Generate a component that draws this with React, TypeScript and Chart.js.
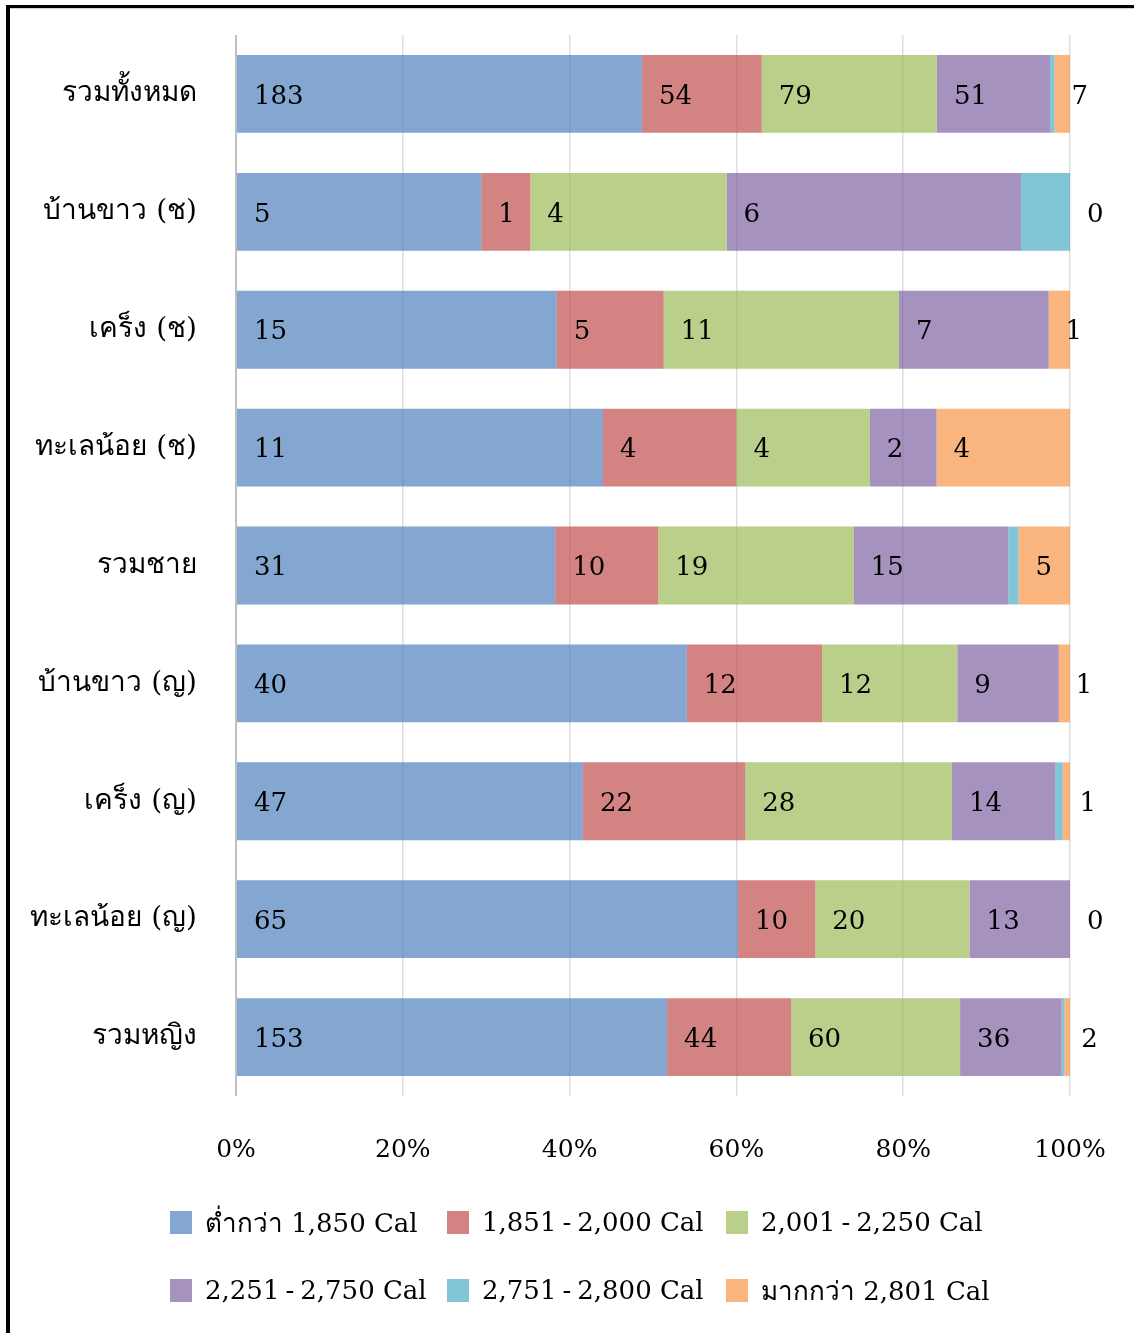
import React, { useEffect, useRef } from "react";
import { Chart, registerables } from "chart.js";

Chart.register(...registerables);

// ---------- data ----------
const categories = [
  "รวมทั้งหมด",
  "บ้านขาว (ช)",
  "เคร็ง (ช)",
  "ทะเลน้อย (ช)",
  "รวมชาย",
  "บ้านขาว (ญ)",
  "เคร็ง (ญ)",
  "ทะเลน้อย (ญ)",
  "รวมหญิง",
];

const seriesNames = [
  "ต่ำกว่า 1,850 Cal",
  "1,851-2,000 Cal",
  "2,001-2,250 Cal",
  "2,251-2,750 Cal",
  "2,751-2,800 Cal",
  "มากกว่า 2,801 Cal",
];

const below1850 = [183, 5, 15, 11, 31, 40, 47, 65, 153];
const cal1851to2000 = [54, 1, 5, 4, 10, 12, 22, 10, 44];
const cal2001to2250 = [79, 4, 11, 4, 19, 12, 28, 20, 60];
const cal2251to2750 = [51, 6, 7, 2, 15, 9, 14, 13, 36];
const cal2751to2800 = [2, 1, 0, 0, 1, 0, 1, 0, 1];
const above2801 = [7, 0, 1, 4, 5, 1, 1, 0, 2];

const xTickLabels = ["0%", "20%", "40%", "60%", "80%", "100%"];

const seriesColors = [
  "rgba(79,129,189,0.7)",
  "rgba(192,80,77,0.7)",
  "rgba(155,187,89,0.7)",
  "rgba(128,100,162,0.7)",
  "rgba(75,172,198,0.7)",
  "rgba(247,150,70,0.7)",
];

const showSeriesLabels = [true, true, true, true, false, true];

const FONT_FAMILY = '"DejaVu Serif", "Liberation Serif", serif';

const allSeries = [
  below1850,
  cal1851to2000,
  cal2001to2250,
  cal2251to2750,
  cal2751to2800,
  above2801,
];

const segmentLabelPlugin = {
  id: "segmentLabels",
  afterDatasetsDraw(chart: any) {
    const ctx = chart.ctx;
    ctx.save();
    ctx.font = `26px ${FONT_FAMILY}`;
    ctx.fillStyle = "#000";
    ctx.textAlign = "left";
    ctx.textBaseline = "middle";
    chart.data.datasets.forEach((ds: any, di: number) => {
      if (!ds.showLabels) return;
      const meta = chart.getDatasetMeta(di);
      meta.data.forEach((el: any, i: number) => {
        const p = el.getProps(["x", "base", "y"], true);
        const left = Math.min(p.x, p.base);
        ctx.fillText(String(ds.counts[i]), left + 17, p.y + 3);
      });
    });
    ctx.restore();
  },
};

const zeroPadding = (s: any) => {
  s.paddingLeft = 0;
  s.paddingRight = 0;
  s.paddingTop = 0;
  s.paddingBottom = 0;
};

function LegendText({ text }: { text: string }) {
  const parts = text.split("-");
  if (parts.length === 1) return <span>{text}</span>;
  return (
    <span>
      {parts[0]}
      <span style={{ margin: "0 6px" }}>-</span>
      {parts.slice(1).join("-")}
    </span>
  );
}

export default function App() {
  const canvasRef = useRef<HTMLCanvasElement | null>(null);

  useEffect(() => {
    if (!canvasRef.current) return;
    const totals = categories.map((_, i) =>
      allSeries.reduce((sum, s) => sum + s[i], 0)
    );
    const datasets = allSeries.map((s, k) => ({
      label: seriesNames[k],
      data: s.map((v, i) => (v / totals[i]) * 100),
      counts: s,
      showLabels: showSeriesLabels[k],
      backgroundColor: seriesColors[k],
      borderWidth: 0,
      barPercentage: 1,
      categoryPercentage: 0.66,
    }));

    const chart = new Chart(canvasRef.current, {
      type: "bar",
      data: { labels: categories, datasets: datasets as any },
      plugins: [segmentLabelPlugin],
      options: {
        indexAxis: "y",
        responsive: false,
        animation: false,
        layout: { padding: { top: 35, right: 64, bottom: 147, left: 0 } },
        plugins: {
          legend: { display: false },
          tooltip: { enabled: false },
        },
        scales: {
          x: {
            stacked: true,
            min: 0,
            max: 100,
            ticks: {
              stepSize: 20,
              color: "#000",
              padding: 39,
              font: { family: FONT_FAMILY, size: 25 },
              callback: (_v: any, idx: number) => xTickLabels[idx],
            },
            grid: {
              drawTicks: false,
              color: (c: any) => (c.index === 0 ? "#c0c0c0" : "#dedede"),
              lineWidth: (c: any) => (c.index === 0 ? 2 : 1.5),
            },
            border: { display: false },
            afterFit: (s: any) => {
              s.height = 90;
              zeroPadding(s);
            },
          },
          y: {
            stacked: true,
            grid: { display: false, drawTicks: false },
            border: { display: false },
            ticks: {
              color: "#000",
              padding: 39,
              font: { family: FONT_FAMILY, size: 28 },
            },
            afterFit: (s: any) => {
              s.width = 236;
              zeroPadding(s);
            },
          },
        },
      } as any,
    });
    return () => chart.destroy();
  }, []);

  const legendCols = [170, 447, 726];
  const legendRows = [1222, 1290];

  return (
    <div
      style={{
        position: "absolute",
        left: 0,
        top: 0,
        width: 1134,
        height: 1333,
        overflow: "hidden",
        background: "#fff",
      }}
    >
      <canvas
        ref={canvasRef}
        width={1134}
        height={1333}
        style={{ position: "absolute", left: 0, top: 0 }}
      />
      <div
        style={{
          position: "absolute",
          left: 6,
          top: 5,
          width: 1400,
          height: 1500,
          borderTop: "3px solid #000",
          borderLeft: "4px solid #000",
          pointerEvents: "none",
        }}
      >
        <div style={{ borderTop: "1px solid #d4d4d4" }} />
      </div>
      {seriesNames.map((name, k) => {
        const col = k % 3;
        const row = Math.floor(k / 3);
        return (
          <div
            key={name}
            style={{
              position: "absolute",
              left: legendCols[col],
              top: legendRows[row] - 16,
              height: 32,
              display: "flex",
              alignItems: "center",
              whiteSpace: "nowrap",
              fontFamily: FONT_FAMILY,
              fontSize: 26,
              color: "#000",
            }}
          >
            <span
              style={{
                display: "inline-block",
                width: 22,
                height: 23,
                background: seriesColors[k],
                marginRight: 13,
              }}
            />
            <LegendText text={name} />
          </div>
        );
      })}
    </div>
  );
}
